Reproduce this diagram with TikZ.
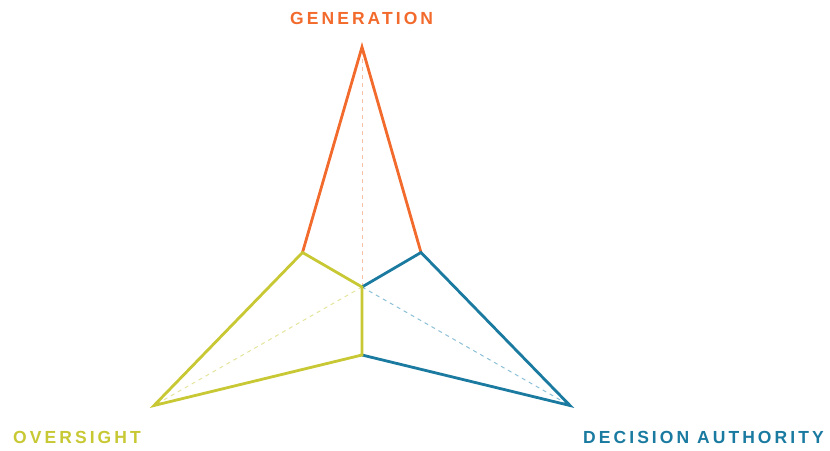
\documentclass[tikz,border=0pt]{standalone}
\usepackage{fontspec}
\setmainfont{Liberation Sans}
\newfontfamily\labfont[LetterSpace=17.5]{Liberation Sans}
\definecolor{gen}{HTML}{F26A2C}
\definecolor{ovs}{HTML}{C8C834}
\definecolor{dec}{HTML}{1A7AA0}
\definecolor{genl}{HTML}{F8C0A4}
\definecolor{ovsl}{HTML}{E4E49C}
\definecolor{decl}{HTML}{8CC0D6}
\tikzset{
  edge/.style={line width=2.8pt, line join=miter, line cap=round},
  guide/.style={line width=1pt, dash pattern=on 4pt off 4pt},
  lbl/.style={inner sep=0pt, anchor=base west, font=\labfont\bfseries\fontsize{17.5}{20}\selectfont}
}
\begin{document}
\begin{tikzpicture}[x=1pt,y=-1pt]
\useasboundingbox (0,0) rectangle (830,450);
\coordinate (C) at (362,287);
\coordinate (T) at (362,47);
\coordinate (L) at (154,405.5);
\coordinate (R) at (570,405.5);
\coordinate (UL) at (302.5,252.5);
\coordinate (UR) at (421,252.5);
\coordinate (B) at (362,355);
% guides
\draw[guide, genl] (C) -- (T);
\draw[guide, ovsl] (C) -- (L);
\draw[guide, decl] (C) -- (R);
% outlines
\draw[edge, gen] (UL) -- (T) -- (UR);
\draw[edge, dec] (C) -- (UR) -- (R) -- (B);
\draw[edge, ovs] (UL) -- (C) -- (B) -- (L) -- cycle;
% labels
\node[lbl, text=gen] (tg) at (290,24) {GENERATION};
\node[lbl, text=ovs] (to) at (13,443) {OVERSIGHT};
\node[lbl, text=dec] (td) at (583,443) {DECISION AUTHORITY};
\end{tikzpicture}
\end{document}
